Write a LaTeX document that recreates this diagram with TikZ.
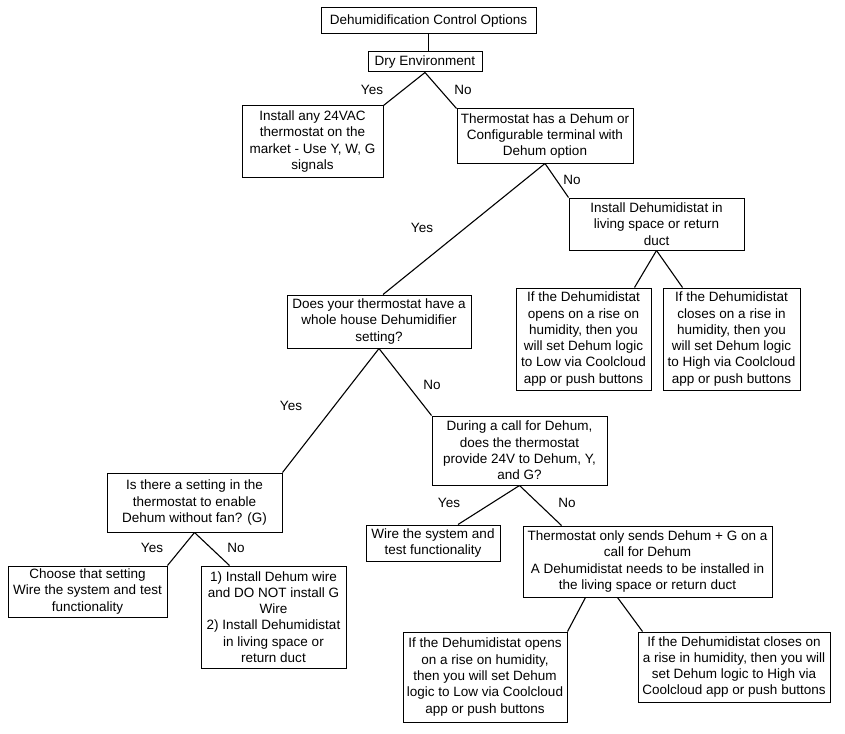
\documentclass[tikz,border=0pt]{standalone}
\usepackage{fontspec}
\setmainfont{Liberation Sans}

\begin{document}
\begin{tikzpicture}[x = 1pt, y = -1pt,
    fcbox/.style = {draw, line width = 1pt, align = center, inner sep = 1pt,
      font = \fontsize{13.5}{16.3}\selectfont},
    choice/.style = {font = \fontsize{13.5}{16.3}\selectfont},
    branch/.style = {line width = 1.1pt}]
      \useasboundingbox (0, 0) rectangle (845, 733);
      % boxes, top to bottom
      \node [fcbox, minimum width = 215, minimum height = 26] (title) at (428.5, 21) {Dehumidification Control Options};
      \node [fcbox, minimum width = 114, minimum height = 20] (dry) at (425, 62) {Dry Environment};
      \node [fcbox, minimum width = 141, minimum height = 71] (anystat) at (312.5, 141.5) {Install any 24VAC\\thermostat on the\\market - Use Y, W, G\\signals};
      \node [fcbox, minimum width = 176, minimum height = 54] (dehumterm) at (545, 136) {Thermostat has a Dehum or\\Configurable terminal with\\Dehum option};
      \node [fcbox, minimum width = 175, minimum height = 52] (humstat) at (656.5, 224) {Install Dehumidistat in\\living space or return\\duct};
      \node [fcbox, minimum width = 135, minimum height = 102] (lowA) at (583.5, 339) {If the Dehumidistat\\opens on a rise on\\humidity, then you\\will set Dehum logic\\to Low via Coolcloud\\app or push buttons};
      \node [fcbox, minimum width = 137, minimum height = 102] (highA) at (731.5, 339) {If the Dehumidistat\\closes on a rise in\\humidity, then you\\will set Dehum logic\\to High via Coolcloud\\app or push buttons};
      \node [fcbox, minimum width = 184, minimum height = 53] (whole) at (379, 321.5) {Does your thermostat have a\\whole house Dehumidifier\\setting?};
      \node [fcbox, minimum width = 175, minimum height = 69] (during) at (519.5, 450.5) {During a call for Dehum,\\does the thermostat\\provide 24V to Dehum, Y,\\and G?};
      \node [fcbox, minimum width = 175, minimum height = 59] (nofan) at (194.5, 502.5) {Is there a setting in the\\thermostat to enable\\Dehum without fan? (G)};
      \node [fcbox, minimum width = 159, minimum height = 51] (choose) at (87.5, 591.5) {Choose that setting\\Wire the system and test\\functionality};
      \node [fcbox, minimum width = 145, minimum height = 102] (nogwire) at (273.5, 617) {1) Install Dehum wire\\and DO NOT install G\\Wire\\2) Install Dehumidistat\\in living space or\\return duct};
      \node [fcbox, minimum width = 134, minimum height = 36] (wire) at (433, 543) {Wire the system and\\test functionality};
      \node [fcbox, minimum width = 249, minimum height = 71] (onlyg) at (647.5, 561.5) {Thermostat only sends Dehum + G on a\\call for Dehum\\A Dehumidistat needs to be installed in\\the living space or return duct};
      \node [fcbox, minimum width = 164, minimum height = 90] (lowB) at (485, 677) {If the Dehumidistat opens\\on a rise on humidity,\\then you will set Dehum\\logic to Low via Coolcloud\\app or push buttons};
      \node [fcbox, minimum width = 192, minimum height = 70] (highB) at (734, 667) {If the Dehumidistat closes on\\a rise in humidity, then you will\\set Dehum logic to High via\\Coolcloud app or push buttons};
      % branches
      \draw [branch] (title.south) -- (title.south |- dry.north);
      \draw [branch] (dry.south) -- (anystat.north east);
      \draw [branch] (dry.south) -- (dehumterm.north west);
      \draw [branch] (dehumterm.south) -- ([xshift = 4pt]whole.north);
      \draw [branch] (dehumterm.south) -- (humstat.north west);
      \draw [branch] (humstat.south) -- ([xshift = -17pt]lowA.north east);
      \draw [branch] (humstat.south) -- ([xshift = 20pt]highA.north west);
      \draw [branch] (whole.south) -- (nofan.north east);
      \draw [branch] (whole.south) -- (during.north west);
      \draw [branch] (nofan.south) -- (choose.north east);
      \draw [branch] (nofan.south) -- ([xshift = 29pt]nogwire.north west);
      \draw [branch] (during.south) -- ([xshift = 25pt]wire.north);
      \draw [branch] (during.south) -- ([xshift = 39pt]onlyg.north west);
      \draw [branch] ([xshift = -62pt]onlyg.south) -- (lowB.north east);
      \draw [branch] ([xshift = -30pt]onlyg.south) -- ([xshift = 5pt]highB.north west);
      % answers
      \node [choice] at (372, 90) {Yes};
      \node [choice] at (463, 90) {No};
      \node [choice] at (572, 180) {No};
      \node [choice] at (422, 228) {Yes};
      \node [choice] at (291, 406) {Yes};
      \node [choice] at (432, 385) {No};
      \node [choice] at (152, 548) {Yes};
      \node [choice] at (236, 548) {No};
      \node [choice] at (449, 503) {Yes};
      \node [choice] at (567, 503) {No};
    \end{tikzpicture}
\end{document}
